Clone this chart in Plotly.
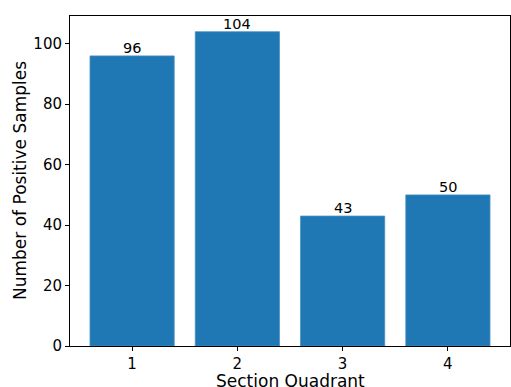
import plotly.graph_objects as go

# Positive sample counts per section quadrant
quadrants = [1, 2, 3, 4]
positive_counts = [96, 104, 43, 50]
y_ticks = [0, 20, 40, 60, 80, 100]

bar_color = "#1f77b4"
font_family = "DejaVu Sans"

fig = go.Figure(
    go.Bar(
        x=quadrants,
        y=positive_counts,
        width=0.8,
        marker=dict(color=bar_color, line=dict(width=0.8, color="#4a90c4")),
        cliponaxis=False,
    )
)

# Value labels sitting just above each bar
for q, v in zip(quadrants, positive_counts):
    fig.add_annotation(
        x=q, y=v, xref="x", yref="y",
        text=str(v), showarrow=False,
        yanchor="bottom", yshift=-2,
        font=dict(family=font_family, size=14.5, color="black"),
    )

# Axis titles placed as paper-anchored annotations
fig.add_annotation(
    x=0.5, y=0, xref="paper", yref="paper",
    text="Section Quadrant", showarrow=False,
    xanchor="center", yanchor="middle", yshift=-35,
    font=dict(family=font_family, size=17, color="black"),
)
fig.add_annotation(
    x=0, y=0.5, xref="paper", yref="paper",
    text="Number of Positive Samples", showarrow=False, textangle=-90,
    xanchor="center", yanchor="middle", xshift=-50,
    font=dict(family=font_family, size=17, color="black"),
)

ymax = max(positive_counts) * 1.05

fig.update_layout(
    width=511,
    height=387,
    margin=dict(l=70, r=1, t=16, b=41),
    plot_bgcolor="white",
    paper_bgcolor="white",
    showlegend=False,
    font=dict(family=font_family, size=15, color="black"),
    xaxis=dict(
        range=[0.41, 4.59],
        tickvals=quadrants,
        ticktext=[str(q) for q in quadrants],
        ticks="outside",
        ticklen=4,
        tickcolor="black",
        showline=True,
        linecolor="black",
        linewidth=1,
        mirror=True,
        showgrid=False,
        zeroline=False,
        automargin=False,
    ),
    yaxis=dict(
        range=[0, ymax],
        tickvals=y_ticks,
        ticks="outside",
        ticklen=4,
        tickcolor="black",
        showline=True,
        linecolor="black",
        linewidth=1,
        mirror=True,
        showgrid=False,
        zeroline=False,
        automargin=False,
    ),
)

fig.write_html("out.html")
